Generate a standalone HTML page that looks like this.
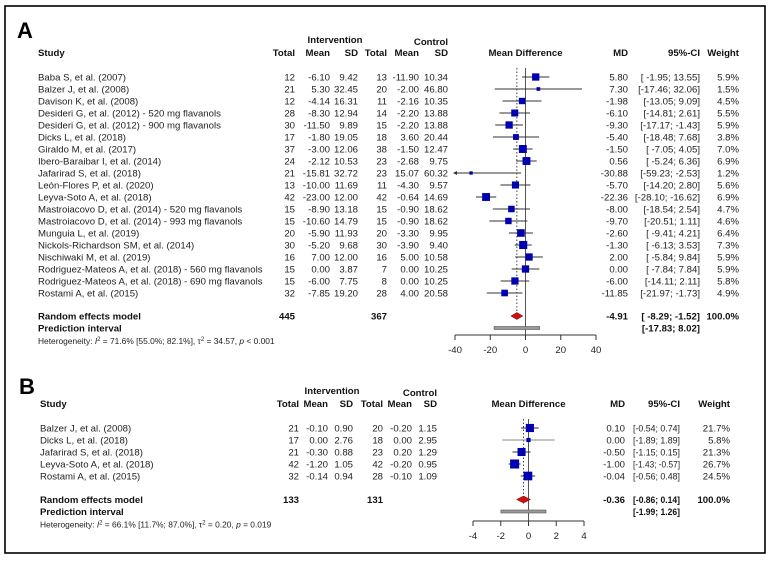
<!DOCTYPE html>
<html><head><meta charset="utf-8"><style>
body{margin:0;background:#fff}
svg{display:block;font-family:"Liberation Sans",Arial,sans-serif}
text{font-size:9.6px;fill:#222}
.b{font-weight:bold;fill:#111}
</style></head><body>
<svg id="fig" width="770" height="562" viewBox="0 0 770 562">
<rect x="5" y="6" width="760" height="547" fill="none" stroke="#000" stroke-width="1.6"/>
<text x="17" y="38" style="font-size:22px;font-weight:bold;fill:#000">A</text>
<text x="19" y="394" style="font-size:22px;font-weight:bold;fill:#000">B</text>
<g id="gA"></g>
<g id="gB"></g>
</svg>
<script>
// Panel A data
const studiesA=["Baba S, et al. (2007)","Balzer J, et al. (2008)","Davison K, et al. (2008)","Desideri G, et al. (2012) - 520 mg flavanols","Desideri G, et al. (2012) - 900 mg flavanols","Dicks L, et al. (2018)","Giraldo M, et al. (2017)","Ibero-Baraibar I, et al. (2014)","Jafarirad S, et al. (2018)","León-Flores P, et al. (2020)","Leyva-Soto A, et al. (2018)","Mastroiacovo D, et al. (2014) - 520 mg flavanols","Mastroiacovo D, et al. (2014) - 993 mg flavanols","Munguia L, et al. (2019)","Nickols-Richardson SM, et al. (2014)","Nischiwaki M, et al. (2019)","Rodriguez-Mateos A, et al. (2018) - 560 mg flavanols","Rodriguez-Mateos A, et al. (2018) - 690 mg flavanols","Rostami A, et al. (2015)"];
const intTotalA=[12,21,12,28,30,17,37,24,21,13,42,15,15,20,30,16,15,15,32];
const intMeanA=["-6.10","5.30","-4.14","-8.30","-11.50","-1.80","-3.00","-2.12","-15.81","-10.00","-23.00","-8.90","-10.60","-5.90","-5.20","7.00","0.00","-6.00","-7.85"];
const intSdA=["9.42","32.45","16.31","12.94","9.89","19.05","12.06","10.53","32.72","11.69","12.00","13.18","14.79","11.93","9.68","12.00","3.87","7.75","19.20"];
const ctlTotalA=[13,20,11,14,15,18,38,23,23,11,42,15,15,20,30,16,7,8,28];
const ctlMeanA=["-11.90","-2.00","-2.16","-2.20","-2.20","3.60","-1.50","-2.68","15.07","-4.30","-0.64","-0.90","-0.90","-3.30","-3.90","5.00","0.00","0.00","4.00"];
const ctlSdA=["10.34","46.80","10.35","13.88","13.88","20.44","12.47","9.75","60.32","9.57","14.69","18.62","18.62","9.95","9.40","10.58","10.25","10.25","20.58"];
const mdA=[5.80,7.30,-1.98,-6.10,-9.30,-5.40,-1.50,0.56,-30.88,-5.70,-22.36,-8.00,-9.70,-2.60,-1.30,2.00,0.00,-6.00,-11.85];
const loA=[-1.95,-17.46,-13.05,-14.81,-17.17,-18.48,-7.05,-5.24,-59.23,-14.20,-28.10,-18.54,-20.51,-9.41,-6.13,-5.84,-7.84,-14.11,-21.97];
const hiA=[13.55,32.06,9.09,2.61,-1.43,7.68,4.05,6.36,-2.53,2.80,-16.62,2.54,1.11,4.21,3.53,9.84,7.84,2.11,-1.73];
const wA=[5.9,1.5,4.5,5.5,5.9,3.8,7.0,6.9,1.2,5.6,6.9,4.7,4.6,6.4,7.3,5.9,5.9,5.8,4.9];
const pooledA=[-4.91,-8.29,-1.52], predA=[-17.83,8.02], totalsA=[445,367];
const ticksA=[-40,-20,0,20,40];
// Panel B data
const studiesB=["Balzer J, et al. (2008)","Dicks L, et al. (2018)","Jafarirad S, et al. (2018)","Leyva-Soto A, et al. (2018)","Rostami A, et al. (2015)"];
const intTotalB=[21,17,21,42,32];
const intMeanB=["-0.10","0.00","-0.30","-1.20","-0.14"];
const intSdB=["0.90","2.76","0.88","1.05","0.94"];
const ctlTotalB=[20,18,23,42,28];
const ctlMeanB=["-0.20","0.00","0.20","-0.20","-0.10"];
const ctlSdB=["1.15","2.95","1.29","0.95","1.09"];
const mdB=[0.10,0.00,-0.50,-1.00,-0.04];
const loB=[-0.54,-1.89,-1.15,-1.43,-0.56];
const hiB=[0.74,1.89,0.15,-0.57,0.48];
const wB=[21.7,5.8,21.3,26.7,24.5];
const pooledB=[-0.36,-0.86,0.14], predB=[-1.99,1.26], totalsB=[133,131];
const ticksB=[-4,-2,0,2,4];

const NS="http://www.w3.org/2000/svg";
function el(p,tag,attrs,txt){const e=document.createElementNS(NS,tag);for(const k in attrs)e.setAttribute(k,attrs[k]);if(txt!==undefined)e.textContent=txt;p.appendChild(e);return e;}
function T(p,x,y,s,anchor,cls){return el(p,"text",{x:x,y:y,"text-anchor":anchor||"start",class:cls||""},s);}
function f2(v){return v.toFixed(2);}
function ciPad(lo,hi){const a=f2(lo),b=f2(hi);return "["+(a.length<6?" ":"")+a+"; "+(b.length<5?" ":"")+b+"]";}
function ciTight(lo,hi){return "["+f2(lo)+"; "+f2(hi)+"]";}
function CI(p,o,x,y,lo,hi,cls){
  const e=T(p,x,y,o.tight?ciTight(lo,hi):ciPad(lo,hi),"end",cls);
  if(o.ciLen){e.setAttribute("textLength",o.ciLen);e.setAttribute("lengthAdjust","spacingAndGlyphs");}
  return e;
}

function panel(g,o){
  const X=v=>o.x0+v*o.k;
  let t=T(g,o.cInt,o.hy-13,"Intervention","middle","b");
  t=T(g,o.col[5],o.hy-11,"Control","end","b");
  t=T(g,o.sx,o.hy,"Study","start","b");
  const hs=["Total","Mean","SD","Total","Mean","SD"];
  hs.forEach((h,i)=>{const e=T(g,o.col[i],o.hy,h,"end","b");});
  t=T(g,o.x0,o.hy,"Mean Difference","middle","b");
  t=T(g,o.mdx,o.hy,"MD","end","b");
  t=T(g,o.cix,o.hy,"95%-CI","end","b");
  t=T(g,o.wx,o.hy,"Weight","end","b");
  const n=o.st.length;
  const lastY=o.y0+(n-1)*o.dy, remY=lastY+o.gap, predY=remY+12;
  let l=el(g,"line",{x1:X(0),x2:X(0),y1:o.y0-9,y2:o.axY,stroke:"#555","stroke-width":1});
  
  l=el(g,"line",{x1:X(o.pooled[0]),x2:X(o.pooled[0]),y1:o.y0-9,y2:remY+4,stroke:"#444","stroke-width":1,"stroke-dasharray":"1.5,2"});
  
  for(let i=0;i<n;i++){
    const y=o.y0+i*o.dy, ty=y+3.5;
    const row=el(g,"g",{});
    
    
    T(row,o.sx,ty,o.st[i]);
    [o.it[i],o.im[i],o.is[i],o.ct[i],o.cm[i],o.cs[i]].forEach((v,j)=>T(row,o.col[j],ty,v,"end"));
    T(row,o.mdx,ty,f2(o.md[i]),"end");
    CI(row,o,o.cix,ty,o.lo[i],o.hi[i]);
    T(row,o.wx,ty,o.w[i].toFixed(1)+"%","end");
    const lo=Math.max(o.lo[i],o.min), hi=Math.min(o.hi[i],o.max);
    const wl=el(row,"line",{x1:X(lo),x2:X(hi),y1:y,y2:y,stroke:o.grey&&o.grey[i]?"#888":"#333","stroke-width":1});
    
    if(o.lo[i]<o.min){const ax=X(o.min);const ar=el(row,"path",{d:`M${ax-2},${y} l4,-2 l0,4 z`,fill:"#333"});}
    const s=o.sq*Math.sqrt(o.w[i]);
    const sq=el(row,"rect",{x:X(o.md[i])-s/2,y:y-s/2,width:s,height:s,fill:"#0000b0"});
    
  }
  t=T(g,o.sx,remY+3.5,"Random effects model","start","b");
  t=T(g,o.col[0],remY+3.5,String(o.tot[0]),"end","b");
  t=T(g,o.col[3],remY+3.5,String(o.tot[1]),"end","b");
  t=T(g,o.mdx,remY+3.5,f2(o.pooled[0]),"end","b");
  t=CI(g,o,o.cix,remY+3.5,o.pooled[1],o.pooled[2],"b");
  t=T(g,o.wx,remY+3.5,"100.0%","end","b");
  const dm=el(g,"polygon",{points:`${X(o.pooled[1])},${remY} ${X(o.pooled[0])},${remY-3.5} ${X(o.pooled[2])},${remY} ${X(o.pooled[0])},${remY+3.5}`,fill:"#d01010",stroke:"#700","stroke-width":0.5});
  
  t=T(g,o.sx,predY+3.5,"Prediction interval","start","b");
  t=CI(g,o,o.cix,predY+3.5,o.pred[0],o.pred[1],"b");
  const pr=el(g,"rect",{x:X(o.pred[0]),y:predY-1.5,width:X(o.pred[1])-X(o.pred[0]),height:3,fill:"#999",stroke:"#555","stroke-width":0.6});
  
  const het=el(g,"text",{x:o.sx,y:predY+16,style:"font-size:8.4px"});
  
  het.innerHTML=o.het;
  if(o.hetLen){het.setAttribute("textLength",o.hetLen);het.setAttribute("lengthAdjust","spacingAndGlyphs");}
  const ax=el(g,"g",{});
  
  el(ax,"line",{x1:X(o.ticks[0]),x2:X(o.ticks[o.ticks.length-1]),y1:o.axY,y2:o.axY,stroke:"#333"});
  o.ticks.forEach(v=>{el(ax,"line",{x1:X(v),x2:X(v),y1:o.axY,y2:o.axY+5,stroke:"#333"});
    const tl=T(ax,X(v),o.axY+18,String(v),"middle");});
}
panel(document.getElementById("gA"),{x0:525.5,k:141/80,min:-40,max:40,sx:38,hy:56,y0:77,dy:12,gap:23,axY:335,
  col:[295,330,358,387,419,448],cInt:335,mdx:628,cix:700,wx:739,sq:3,
  st:studiesA,it:intTotalA,im:intMeanA,is:intSdA,ct:ctlTotalA,cm:ctlMeanA,cs:ctlSdA,md:mdA,lo:loA,hi:hiA,w:wA,
  pooled:pooledA,pred:predA,tot:totalsA,ticks:ticksA,
  het:'Heterogeneity: <tspan font-style="italic">I</tspan><tspan dy="-3" style="font-size:6px">2</tspan><tspan dy="3"> = 71.6% [55.0%; 82.1%], τ</tspan><tspan dy="-3" style="font-size:6px">2</tspan><tspan dy="3"> = 34.57, </tspan><tspan font-style="italic">p</tspan> &lt; 0.001'});
panel(document.getElementById("gB"),{x0:528.5,k:111/8,min:-4,max:4,sx:40,hy:407,y0:428,dy:12,gap:23.5,axY:521,
  col:[299,328,353,383,412,437],cInt:332,mdx:625,cix:680,wx:730,sq:1.75,grey:[0,1,0,0,0],tight:true,ciLen:47,
  st:studiesB,it:intTotalB,im:intMeanB,is:intSdB,ct:ctlTotalB,cm:ctlMeanB,cs:ctlSdB,md:mdB,lo:loB,hi:hiB,w:wB,
  pooled:pooledB,pred:predB,tot:totalsB,ticks:ticksB,
  het:'Heterogeneity: <tspan font-style="italic">I</tspan><tspan dy="-3" style="font-size:6px">2</tspan><tspan dy="3"> = 66.1% [11.7%; 87.0%], τ</tspan><tspan dy="-3" style="font-size:6px">2</tspan><tspan dy="3"> = 0.20, </tspan><tspan font-style="italic">p</tspan> = 0.019'});
</script>
</body></html>
